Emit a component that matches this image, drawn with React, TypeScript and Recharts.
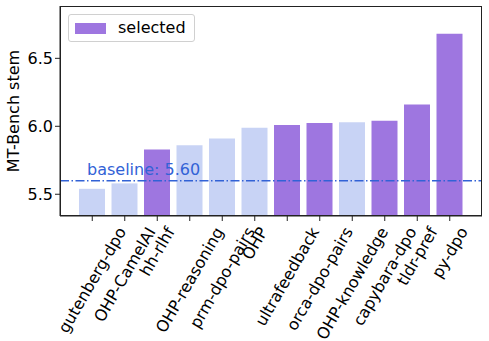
import { Bar, BarChart, Cell, ReferenceLine, XAxis, YAxis } from 'recharts';

const models = [
  'gutenberg-dpo',
  'OHP-CamelAI',
  'hh-rlhf',
  'OHP-reasoning',
  'prm-dpo-pairs',
  'OHP',
  'ultrafeedback',
  'orca-dpo-pairs',
  'OHP-knowledge',
  'capybara-dpo',
  'tldr-pref',
  'py-dpo'
];
const scores = [5.54, 5.58, 5.83, 5.86, 5.91, 5.99, 6.01, 6.025, 6.03, 6.04, 6.16, 6.68];
const selected = [false, false, true, false, false, false, true, true, false, true, true, true];
const yTicks = [5.5, 6.0, 6.5];
const baseline = 5.6;

const PURPLE = '#9e76e0';
const LIGHT = '#c8d3f5';
const BLUE = '#3262d6';
const FONT = '"DejaVu Sans", sans-serif';
const FS = 16;

const data = models.map((name, i) => ({ name, score: scores[i], sel: selected[i] }));

let ctx: CanvasRenderingContext2D | null = null;
function textWidth(s: string) {
  if (!ctx) {
    ctx = document.createElement('canvas').getContext('2d');
    if (ctx) ctx.font = `${FS}px "DejaVu Sans"`;
  }
  return ctx ? ctx.measureText(s).width : s.length * FS * 0.6;
}

// matplotlib-style rotation=60: bbox of rotated text centred on the tick
function RotTick(props: any) {
  const { x, y, payload } = props;
  const s = String(payload.value);
  const L = textWidth(s);
  const h = FS * 1.16;
  const rad = (60 * Math.PI) / 180;
  const cy = y + (L * Math.sin(rad) + h * Math.cos(rad)) / 2;
  return (
    <text
      x={x}
      y={cy}
      textAnchor="middle"
      dominantBaseline="central"
      transform={`rotate(-60, ${x}, ${cy})`}
      fontFamily={FONT}
      fontSize={FS}
      fill="#000"
    >
      {s}
    </text>
  );
}

function YLabel(props: any) {
  const vb = props.viewBox;
  const cx = 13;
  const cy = vb.y + vb.height / 2;
  return (
    <text
      x={cx}
      y={cy}
      textAnchor="middle"
      dominantBaseline="central"
      transform={`rotate(-90, ${cx}, ${cy})`}
      fontFamily={FONT}
      fontSize={FS}
      fill="#000"
    >
      MT-Bench stem
    </text>
  );
}

export default function App() {
  return (
    <div style={{ position: 'fixed', left: 0, top: 0, width: 489, height: 341, background: '#fff' }}>
      <BarChart width={489} height={341} data={data} margin={{ top: 6, right: 7, left: 0, bottom: 0 }}>
        <XAxis
          dataKey="name"
          interval={0}
          height={125}
          padding={{ left: 16, right: 16 }}
          tick={<RotTick />}
          tickSize={5}
          tickMargin={3}
          axisLine={{ stroke: '#222' }}
          tickLine={{ stroke: '#222' }}
        />
        <YAxis
          domain={[5.34, 6.885]}
          ticks={yTicks}
          allowDataOverflow
          width={60}
          tickSize={5}
          tickFormatter={(v: number) => v.toFixed(1)}
          tick={{ fill: '#000', fontSize: FS, fontFamily: FONT }}
          axisLine={{ stroke: '#222' }}
          tickLine={{ stroke: '#222' }}
          label={<YLabel />}
        />
        <Bar dataKey="score" barSize={26} isAnimationActive={false}>
          {data.map((d) => (
            <Cell key={d.name} fill={d.sel ? PURPLE : LIGHT} />
          ))}
        </Bar>
        <ReferenceLine
          y={baseline}
          stroke={BLUE}
          strokeWidth={1.5}
          strokeDasharray="9 2.5 1.5 2.5"
          label={(p: any) => (
            <text x={p.viewBox.x + 27} y={p.viewBox.y - 6} fill={BLUE} fontSize={FS} fontFamily={FONT}>
              {`baseline: ${baseline.toFixed(2)}`}
            </text>
          )}
        />
      </BarChart>
      {/* axes frame (top/right spines) */}
      <div
        style={{
          position: 'absolute',
          left: 60,
          top: 6,
          width: 422,
          height: 210,
          border: '1px solid #222',
          boxSizing: 'border-box',
          pointerEvents: 'none'
        }}
      />
      <div
        style={{
          position: 'absolute',
          left: 68,
          top: 14,
          display: 'flex',
          alignItems: 'center',
          border: '1px solid #d0d0d0',
          borderRadius: 3,
          background: '#fff',
          padding: '4px 8px 4px 6px',
          fontFamily: FONT,
          fontSize: FS,
          lineHeight: '18px'
        }}
      >
        <span style={{ display: 'inline-block', width: 31, height: 11, background: PURPLE, marginRight: 12 }} />
        <span>selected</span>
      </div>
    </div>
  );
}
